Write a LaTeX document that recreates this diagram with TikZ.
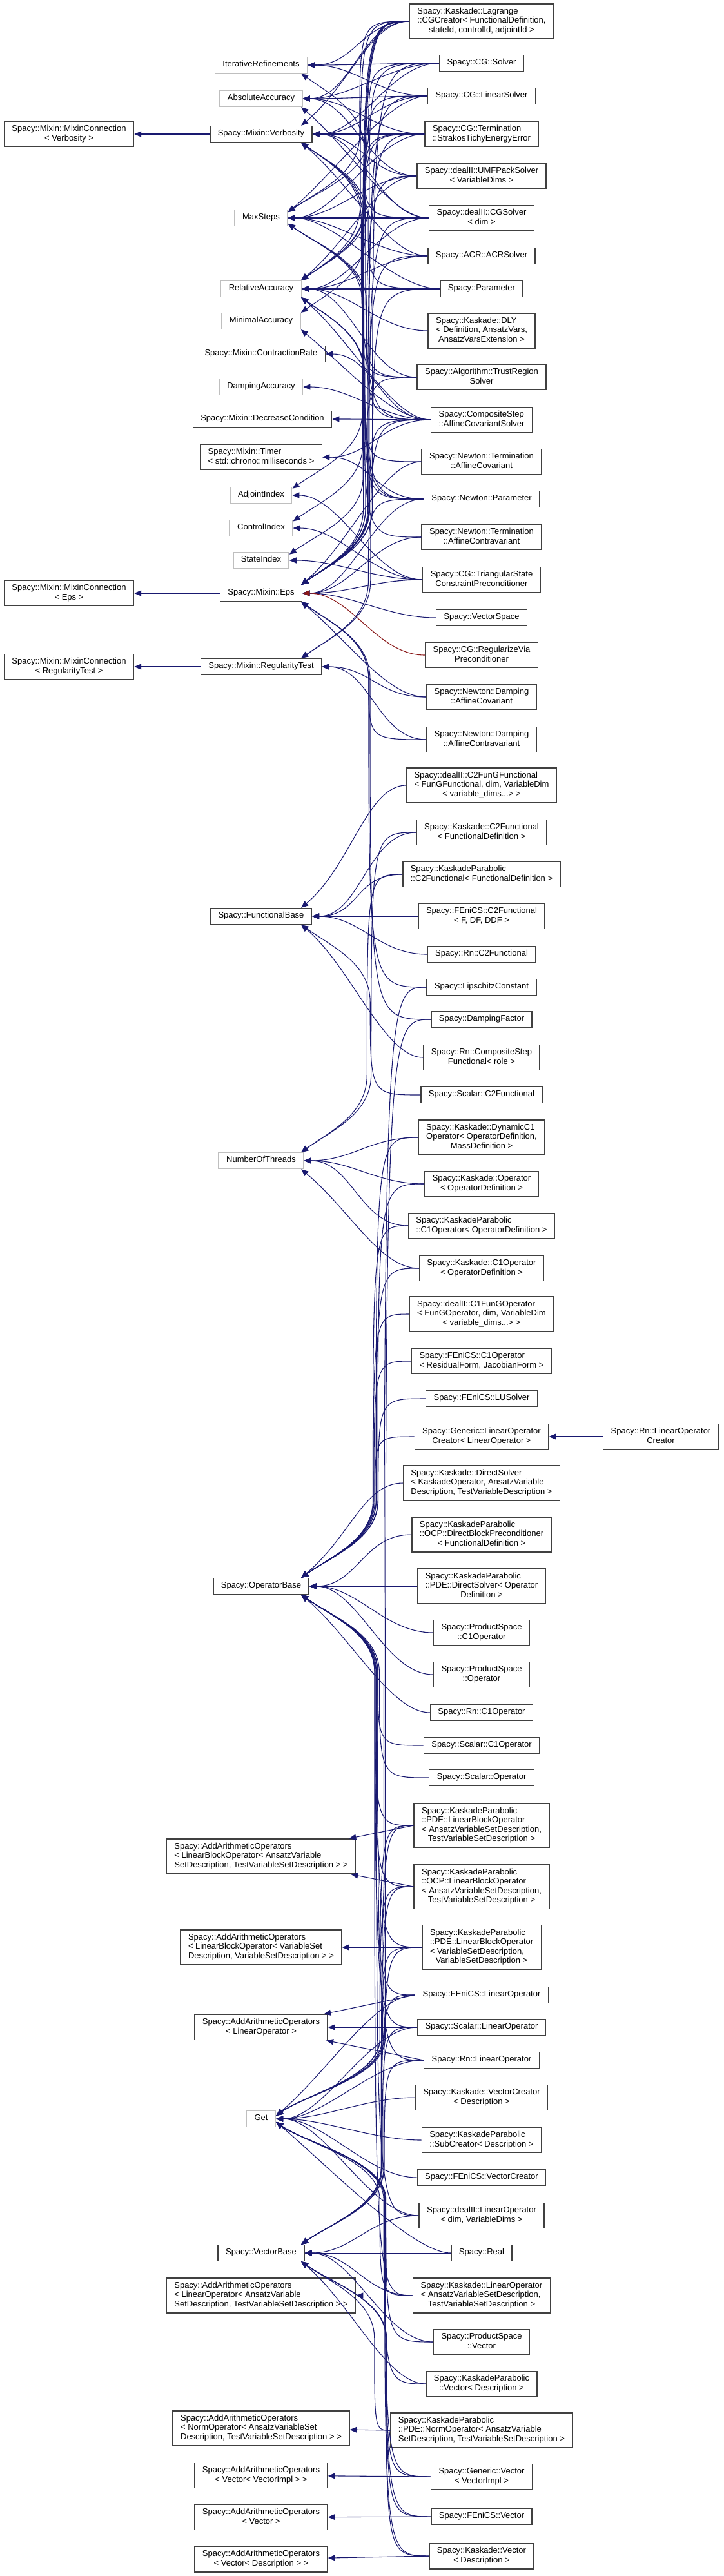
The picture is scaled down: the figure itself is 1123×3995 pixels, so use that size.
\documentclass[tikz,border=0pt]{standalone}
\usepackage{fontspec}
\setmainfont{Liberation Sans}
\usepackage{tikz}
\usetikzlibrary{arrows.meta,calc}

\definecolor{dxblue}{HTML}{191970}
\definecolor{dxdark}{HTML}{404040}
\definecolor{dxlight}{HTML}{BFBFBF}
\definecolor{dxred}{HTML}{8B1A1A}

\newcommand{\cname}[1]{\begin{tabular}{@{}c@{}}#1\end{tabular}}
\newcommand{\cnames}[2]{\begin{tabular}{@{}l@{}}#1\\\multicolumn{1}{@{}c@{}}{#2}\end{tabular}}

\begin{document}
\begin{tikzpicture}[
    x=0.25pt, y=0.25pt,
    cls/.style={
        draw=dxdark,
        line width=0.35pt,
        fill=white,
        inner xsep=3pt,
        inner ysep=1.3125pt,
        font=\fontsize{3.25}{3.625}\selectfont
    },
    undoc/.style={
        cls,
        draw=dxlight
    },
    inh/.style={
        -{Triangle[length=2.75pt,width=2.25pt]},
        draw=dxblue,
        line width=0.27pt
    },
    priv/.style={
        inh,
        draw=dxred
    },
    toeast/.style={out=180, in=0, distance=18.75pt},
    fromtop/.style={out=180, in=40, out distance=15pt, in distance=25pt},
    frombot/.style={out=180, in=-40, out distance=15pt, in distance=25pt},
    lanetop/.style={to path={
        let \p1=(\tikztostart), \p2=(\tikztotarget),
            \n1={0.3*(\x1)+91.05pt-0.01*(\y2)} in
        .. controls (\n1,\y1) and (\n1,\y1) .. (\n1,\y2+30pt)
        .. controls (\n1,\y2+15pt) and +(35:15pt) .. (\tikztotarget)}},
    lanebot/.style={to path={
        let \p1=(\tikztostart), \p2=(\tikztotarget),
            \n1={0.3*(\x1)+91.05pt-0.01*(\y2)} in
        .. controls (\n1,\y1) and (\n1,\y1) .. (\n1,\y2-30pt)
        .. controls (\n1,\y2-15pt) and +(-35:15pt) .. (\tikztotarget)}}
]

\fill[white] (0,0) rectangle (1123,-3995);
\useasboundingbox (0,0) rectangle (1123,-3995);

% Nodes
\node[cls] (mcverb) at (107,-208) {\cnames{Spacy::Mixin::MixinConnection}{< Verbosity >}};
\node[cls] (mceps)  at (107,-920) {\cnames{Spacy::Mixin::MixinConnection}{< Eps >}};
\node[cls] (mcreg)  at (107,-1034) {\cnames{Spacy::Mixin::MixinConnection}{< RegularityTest >}};

\node[undoc] (itref)    at (405,-101) {\cname{IterativeRefinements}};
\node[undoc] (absacc)   at (405,-153) {\cname{AbsoluteAccuracy}};
\node[cls]   (verb)     at (405,-208) {\cname{Spacy::Mixin::Verbosity}};
\node[undoc] (maxsteps) at (405,-338) {\cname{MaxSteps}};
\node[undoc] (relacc)   at (405,-448) {\cname{RelativeAccuracy}};
\node[undoc] (minacc)   at (405,-498) {\cname{MinimalAccuracy}};
\node[cls]   (contr)    at (405,-549) {\cname{Spacy::Mixin::ContractionRate}};
\node[undoc] (dampacc)  at (405,-600) {\cname{DampingAccuracy}};
\node[cls]   (decr)     at (407,-650) {\cname{Spacy::Mixin::DecreaseCondition}};
\node[cls]   (timer)    at (405,-709) {\cnames{Spacy::Mixin::Timer}{< std::chrono::milliseconds >}};
\node[undoc] (adj)      at (405,-768) {\cname{AdjointIndex}};
\node[undoc] (ctrl)     at (405,-819) {\cname{ControlIndex}};
\node[undoc] (state)    at (405,-869) {\cname{StateIndex}};
\node[cls]   (eps)      at (405,-920) {\cname{Spacy::Mixin::Eps}};
\node[cls]   (regtest)  at (405,-1034) {\cname{Spacy::Mixin::RegularityTest}};
\node[cls]   (funcbase) at (405,-1421) {\cname{Spacy::FunctionalBase}};
\node[undoc] (nthreads) at (405,-1800) {\cname{NumberOfThreads}};
\node[cls]   (opbase)   at (405,-2460) {\cname{Spacy::OperatorBase}};
\node[cls]   (aalboat)  at (405,-2879) {\cnames{Spacy::AddArithmeticOperators\\< LinearBlockOperator< AnsatzVariable}{SetDescription, TestVariableSetDescription > >}};
\node[cls]   (aalbovs)  at (405,-3020) {\cnames{Spacy::AddArithmeticOperators\\< LinearBlockOperator< VariableSet}{Description, VariableSetDescription > >}};
\node[cls]   (aalo)     at (405,-3144) {\cnames{Spacy::AddArithmeticOperators}{< LinearOperator >}};
\node[undoc] (get)      at (405,-3286) {\cname{Get}};
\node[cls]   (vecbase)  at (405,-3494) {\cname{Spacy::VectorBase}};
\node[cls]   (aaloat)   at (405,-3560) {\cnames{Spacy::AddArithmeticOperators\\< LinearOperator< AnsatzVariable}{SetDescription, TestVariableSetDescription > >}};
\node[cls]   (aano)     at (405,-3766) {\cnames{Spacy::AddArithmeticOperators\\< NormOperator< AnsatzVariableSet}{Description, TestVariableSetDescription > >}};
\node[cls]   (aavi)     at (405,-3839) {\cnames{Spacy::AddArithmeticOperators}{< Vector< VectorImpl > >}};
\node[cls]   (aav)      at (405,-3904) {\cnames{Spacy::AddArithmeticOperators}{< Vector >}};
\node[cls]   (aavd)     at (405,-3969) {\cnames{Spacy::AddArithmeticOperators}{< Vector< Description > >}};

\node[cls] (lagr)     at (747,-33) {\cnames{Spacy::Kaskade::Lagrange\\::CGCreator< FunctionalDefinition,}{stateId, controlId, adjointId >}};
\node[cls] (cgsolver) at (747,-98) {\cname{Spacy::CG::Solver}};
\node[cls] (cglin)    at (747,-149) {\cname{Spacy::CG::LinearSolver}};
\node[cls] (strakos)  at (747,-208) {\cnames{Spacy::CG::Termination}{::StrakosTichyEnergyError}};
\node[cls] (umf)      at (747,-273) {\cnames{Spacy::dealII::UMFPackSolver}{< VariableDims >}};
\node[cls] (dcg)      at (747,-338) {\cnames{Spacy::dealII::CGSolver}{< dim >}};
\node[cls] (acr)      at (747,-397) {\cname{Spacy::ACR::ACRSolver}};
\node[cls] (param)    at (747,-448) {\cname{Spacy::Parameter}};
\node[cls] (dly)      at (747,-513) {\cnames{Spacy::Kaskade::DLY\\< Definition, AnsatzVars,}{AnsatzVarsExtension >}};
\node[cls] (trs)      at (747,-585) {\cnames{Spacy::Algorithm::TrustRegion}{Solver}};
\node[cls] (css)      at (747,-651) {\cnames{Spacy::CompositeStep}{::AffineCovariantSolver}};
\node[cls] (ntac)     at (747,-716) {\cnames{Spacy::Newton::Termination}{::AffineCovariant}};
\node[cls] (nparam)   at (747,-774) {\cname{Spacy::Newton::Parameter}};
\node[cls] (ntacv)    at (747,-833) {\cnames{Spacy::Newton::Termination}{::AffineContravariant}};
\node[cls] (tri)      at (747,-899) {\cnames{Spacy::CG::TriangularState}{ConstraintPreconditioner}};
\node[cls] (vspace)   at (747,-958) {\cname{Spacy::VectorSpace}};
\node[cls] (regvia)   at (747,-1016) {\cnames{Spacy::CG::RegularizeVia}{Preconditioner}};
\node[cls] (ndac)     at (747,-1081) {\cnames{Spacy::Newton::Damping}{::AffineCovariant}};
\node[cls] (ndacv)    at (747,-1147) {\cnames{Spacy::Newton::Damping}{::AffineContravariant}};
\node[cls] (dfung)    at (747,-1218) {\cnames{Spacy::dealII::C2FunGFunctional\\< FunGFunctional, dim, VariableDim}{< variable\_dims...> >}};
\node[cls] (kc2)      at (747,-1291) {\cnames{Spacy::Kaskade::C2Functional}{< FunctionalDefinition >}};
\node[cls] (kpc2)     at (747,-1356) {\cnames{Spacy::KaskadeParabolic}{::C2Functional< FunctionalDefinition >}};
\node[cls] (fc2)      at (747,-1421) {\cnames{Spacy::FEniCS::C2Functional}{< F, DF, DDF >}};
\node[cls] (rnc2)     at (747,-1480) {\cname{Spacy::Rn::C2Functional}};
\node[cls] (lip)      at (747,-1531) {\cname{Spacy::LipschitzConstant}};
\node[cls] (dfac)     at (747,-1581) {\cname{Spacy::DampingFactor}};
\node[cls] (rncs)     at (747,-1640) {\cnames{Spacy::Rn::CompositeStep}{Functional< role >}};
\node[cls] (sc2)      at (747,-1698) {\cname{Spacy::Scalar::C2Functional}};
\node[cls] (kdyn)     at (747,-1764) {\cnames{Spacy::Kaskade::DynamicC1\\Operator< OperatorDefinition,}{MassDefinition >}};
\node[cls] (kop)      at (747,-1836) {\cnames{Spacy::Kaskade::Operator}{< OperatorDefinition >}};
\node[cls] (kpc1)     at (747,-1901) {\cnames{Spacy::KaskadeParabolic}{::C1Operator< OperatorDefinition >}};
\node[cls] (kc1)      at (747,-1967) {\cnames{Spacy::Kaskade::C1Operator}{< OperatorDefinition >}};
\node[cls] (dfungop)  at (747,-2038) {\cnames{Spacy::dealII::C1FunGOperator\\< FunGOperator, dim, VariableDim}{< variable\_dims...> >}};
\node[cls] (fc1)      at (747,-2111) {\cnames{Spacy::FEniCS::C1Operator}{< ResidualForm, JacobianForm >}};
\node[cls] (flu)      at (747,-2169) {\cname{Spacy::FEniCS::LUSolver}};
\node[cls] (glocr)    at (747,-2228) {\cnames{Spacy::Generic::LinearOperator}{Creator< LinearOperator >}};
\node[cls] (kds)      at (747,-2300) {\cnames{Spacy::Kaskade::DirectSolver\\< KaskadeOperator, AnsatzVariable}{Description, TestVariableDescription >}};
\node[cls] (kpdbp)    at (747,-2380) {\cnames{Spacy::KaskadeParabolic\\::OCP::DirectBlockPreconditioner}{< FunctionalDefinition >}};
\node[cls] (kpds)     at (747,-2460) {\cnames{Spacy::KaskadeParabolic\\::PDE::DirectSolver< Operator}{Definition >}};
\node[cls] (psc1)     at (747,-2532) {\cnames{Spacy::ProductSpace}{::C1Operator}};
\node[cls] (psop)     at (747,-2597) {\cnames{Spacy::ProductSpace}{::Operator}};
\node[cls] (rnc1)     at (747,-2656) {\cname{Spacy::Rn::C1Operator}};
\node[cls] (scc1)     at (747,-2707) {\cname{Spacy::Scalar::C1Operator}};
\node[cls] (scop)     at (747,-2757) {\cname{Spacy::Scalar::Operator}};
\node[cls] (kppdelbo) at (747,-2831) {\cnames{Spacy::KaskadeParabolic\\::PDE::LinearBlockOperator\\< AnsatzVariableSetDescription,}{TestVariableSetDescription >}};
\node[cls] (kpocplbo) at (747,-2926) {\cnames{Spacy::KaskadeParabolic\\::OCP::LinearBlockOperator\\< AnsatzVariableSetDescription,}{TestVariableSetDescription >}};
\node[cls] (kppdevs)  at (747,-3020) {\cnames{Spacy::KaskadeParabolic\\::PDE::LinearBlockOperator\\< VariableSetDescription,}{VariableSetDescription >}};
\node[cls] (flo)      at (747,-3094) {\cname{Spacy::FEniCS::LinearOperator}};
\node[cls] (sclo)     at (747,-3144) {\cname{Spacy::Scalar::LinearOperator}};
\node[cls] (rnlo)     at (747,-3195) {\cname{Spacy::Rn::LinearOperator}};
\node[cls] (kvc)      at (747,-3253) {\cnames{Spacy::Kaskade::VectorCreator}{< Description >}};
\node[cls] (kpsub)    at (747,-3319) {\cnames{Spacy::KaskadeParabolic}{::SubCreator< Description >}};
\node[cls] (fvc)      at (747,-3377) {\cname{Spacy::FEniCS::VectorCreator}};
\node[cls] (dlo)      at (747,-3436) {\cnames{Spacy::dealII::LinearOperator}{< dim, VariableDims >}};
\node[cls] (real)     at (747,-3494) {\cname{Spacy::Real}};
\node[cls] (klo)      at (747,-3560) {\cnames{Spacy::Kaskade::LinearOperator\\< AnsatzVariableSetDescription,}{TestVariableSetDescription >}};
\node[cls] (psvec)    at (747,-3632) {\cnames{Spacy::ProductSpace}{::Vector}};
\node[cls] (kpvec)    at (747,-3697) {\cnames{Spacy::KaskadeParabolic}{::Vector< Description >}};
\node[cls] (kpno)     at (747,-3769) {\cnames{Spacy::KaskadeParabolic\\::PDE::NormOperator< AnsatzVariable}{SetDescription, TestVariableSetDescription >}};
\node[cls] (gvec)     at (747,-3841) {\cnames{Spacy::Generic::Vector}{< VectorImpl >}};
\node[cls] (fvec)     at (747,-3903) {\cname{Spacy::FEniCS::Vector}};
\node[cls] (kvec)     at (747,-3964) {\cnames{Spacy::Kaskade::Vector}{< Description >}};

\node[cls] (rnlocr)   at (1025,-2228) {\cnames{Spacy::Rn::LinearOperator}{Creator}};

% Arrows
\draw[inh] (verb.west) -- (mcverb.east);
\draw[inh] (eps.west) -- (mceps.east);
\draw[inh] (regtest.west) -- (mcreg.east);
\draw[inh] (rnlocr.west) -- (glocr.east);

\draw[inh] (lagr.west) to[toeast] (itref.east);
\draw[inh] (cgsolver.west) to[toeast] (itref.east);
\draw[inh] (cglin.west) to[toeast] (itref.east);
\draw[inh] (dcg.west) to[lanebot] (itref.-12);

\draw[inh] (lagr.west) to[toeast] (absacc.east);
\draw[inh] (cgsolver.west) to[toeast] (absacc.east);
\draw[inh] (cglin.west) to[toeast] (absacc.east);
\draw[inh] (strakos.west) to[toeast] (absacc.east);
\draw[inh] (umf.west) to[toeast] (absacc.east);
\draw[inh] (dcg.west) to[frombot] (absacc.-12);

\draw[inh] (lagr.west) to[fromtop] (verb.12);
\draw[inh] (cgsolver.west) to[toeast] (verb.east);
\draw[inh] (cglin.west) to[toeast] (verb.east);
\draw[inh] (strakos.west) to[toeast] (verb.east);
\draw[inh] (umf.west) to[toeast] (verb.east);
\draw[inh] (dcg.west) to[toeast] (verb.east);
\draw[inh] (acr.west) to[frombot] (verb.-12);
\draw[inh] (param.west) to[lanebot] (verb.-12);
\draw[inh] (trs.west) to[lanebot] (verb.-12);
\draw[inh] (css.west) to[lanebot] (verb.-12);
\draw[inh] (nparam.west) to[lanebot] (verb.-12);

\draw[inh] (lagr.west) to[lanetop] (maxsteps.12);
\draw[inh] (cgsolver.west) to[lanetop] (maxsteps.12);
\draw[inh] (cglin.west) to[fromtop] (maxsteps.12);
\draw[inh] (strakos.west) to[toeast] (maxsteps.east);
\draw[inh] (umf.west) to[toeast] (maxsteps.east);
\draw[inh] (dcg.west) to[toeast] (maxsteps.east);
\draw[inh] (acr.west) to[toeast] (maxsteps.east);
\draw[inh] (param.west) to[toeast] (maxsteps.east);
\draw[inh] (trs.west) to[lanebot] (maxsteps.-12);
\draw[inh] (css.west) to[lanebot] (maxsteps.-12);
\draw[inh] (nparam.west) to[lanebot] (maxsteps.-12);

\draw[inh] (lagr.west) to[lanetop] (relacc.12);
\draw[inh] (cgsolver.west) to[lanetop] (relacc.12);
\draw[inh] (cglin.west) to[lanetop] (relacc.12);
\draw[inh] (strakos.west) to[lanetop] (relacc.12);
\draw[inh] (umf.west) to[fromtop] (relacc.12);
\draw[inh] (dcg.west) to[toeast] (relacc.east);
\draw[inh] (acr.west) to[toeast] (relacc.east);
\draw[inh] (param.west) to[toeast] (relacc.east);
\draw[inh] (dly.west) to[toeast] (relacc.east);
\draw[inh] (trs.west) to[toeast] (relacc.east);
\draw[inh] (css.west) to[frombot] (relacc.-12);
\draw[inh] (ntac.west) to[lanebot] (relacc.-12);
\draw[inh] (nparam.west) to[lanebot] (relacc.-12);
\draw[inh] (ntacv.west) to[lanebot] (relacc.-12);

\draw[inh] (strakos.west) to[lanetop] (minacc.12);
\draw[inh] (css.west) to[frombot] (minacc.-12);
\draw[inh] (css.west) to[toeast] (contr.east);
\draw[inh] (css.west) to[toeast] (dampacc.east);
\draw[inh] (css.west) to[toeast] (decr.east);
\draw[inh] (css.west) to[toeast] (timer.east);
\draw[inh] (nparam.west) to[toeast] (timer.east);

\draw[inh] (lagr.west) to[lanetop] (adj.12);
\draw[inh] (tri.west) to[toeast] (adj.east);
\draw[inh] (lagr.west) to[lanetop] (ctrl.12);
\draw[inh] (tri.west) to[toeast] (ctrl.east);
\draw[inh] (lagr.west) to[lanetop] (state.12);
\draw[inh] (tri.west) to[toeast] (state.east);

\draw[inh] (lagr.west) to[lanetop] (eps.12);
\draw[inh] (cgsolver.west) to[lanetop] (eps.12);
\draw[inh] (cglin.west) to[lanetop] (eps.12);
\draw[inh] (strakos.west) to[lanetop] (eps.12);
\draw[inh] (umf.west) to[lanetop] (eps.12);
\draw[inh] (dcg.west) to[lanetop] (eps.12);
\draw[inh] (acr.west) to[lanetop] (eps.12);
\draw[inh] (param.west) to[lanetop] (eps.12);
\draw[inh] (trs.west) to[lanetop] (eps.12);
\draw[inh] (css.west) to[lanetop] (eps.12);
\draw[inh] (ntac.west) to[fromtop] (eps.12);
\draw[inh] (nparam.west) to[toeast] (eps.east);
\draw[inh] (ntacv.west) to[toeast] (eps.east);
\draw[inh] (tri.west) to[toeast] (eps.east);
\draw[inh] (vspace.west) to[toeast] (eps.east);
\draw[priv] (regvia.west) to[toeast] (eps.east);
\draw[inh] (ndac.west) to[frombot] (eps.-12);
\draw[inh] (ndacv.west) to[lanebot] (eps.-12);
\draw[inh] (lip.west) to[lanebot] (eps.-12);
\draw[inh] (dfac.west) to[lanebot] (eps.-12);

\draw[inh] (css.west) to[lanetop] (regtest.12);
\draw[inh] (nparam.west) to[lanetop] (regtest.12);
\draw[inh] (ndac.west) to[toeast] (regtest.east);
\draw[inh] (ndacv.west) to[toeast] (regtest.east);

\draw[inh] (dfung.west) to[fromtop] (funcbase.12);
\draw[inh] (kc2.west) to[toeast] (funcbase.east);
\draw[inh] (kpc2.west) to[toeast] (funcbase.east);
\draw[inh] (fc2.west) to[toeast] (funcbase.east);
\draw[inh] (rnc2.west) to[toeast] (funcbase.east);
\draw[inh] (rncs.west) to[frombot] (funcbase.-12);
\draw[inh] (sc2.west) to[lanebot] (funcbase.-12);

\draw[inh] (kc2.west) to[lanetop] (nthreads.12);
\draw[inh] (kpc2.west) to[lanetop] (nthreads.12);
\draw[inh] (kdyn.west) to[toeast] (nthreads.east);
\draw[inh] (kop.west) to[toeast] (nthreads.east);
\draw[inh] (kpc1.west) to[toeast] (nthreads.east);
\draw[inh] (kc1.west) to[frombot] (nthreads.-12);

\draw[inh] (kdyn.west) to[lanetop] (opbase.12);
\draw[inh] (kop.west) to[lanetop] (opbase.12);
\draw[inh] (kpc1.west) to[lanetop] (opbase.12);
\draw[inh] (kc1.west) to[lanetop] (opbase.12);
\draw[inh] (dfungop.west) to[lanetop] (opbase.12);
\draw[inh] (fc1.west) to[lanetop] (opbase.12);
\draw[inh] (flu.west) to[lanetop] (opbase.12);
\draw[inh] (glocr.west) to[lanetop] (opbase.12);
\draw[inh] (kds.west) to[fromtop] (opbase.12);
\draw[inh] (kpdbp.west) to[toeast] (opbase.east);
\draw[inh] (kpds.west) to[toeast] (opbase.east);
\draw[inh] (psc1.west) to[toeast] (opbase.east);
\draw[inh] (psop.west) to[toeast] (opbase.east);
\draw[inh] (rnc1.west) to[frombot] (opbase.-12);
\draw[inh] (scc1.west) to[lanebot] (opbase.-12);
\draw[inh] (scop.west) to[lanebot] (opbase.-12);
\draw[inh] (kppdelbo.west) to[lanebot] (opbase.-12);
\draw[inh] (kpocplbo.west) to[lanebot] (opbase.-12);
\draw[inh] (kppdevs.west) to[lanebot] (opbase.-12);
\draw[inh] (flo.west) to[lanebot] (opbase.-12);
\draw[inh] (sclo.west) to[lanebot] (opbase.-12);
\draw[inh] (rnlo.west) to[lanebot] (opbase.-12);
\draw[inh] (dlo.west) to[lanebot] (opbase.-12);
\draw[inh] (klo.west) to[lanebot] (opbase.-12);

\draw[inh] (kppdelbo.west) -- (aalboat);
\draw[inh] (kpocplbo.west) -- (aalboat);
\draw[inh] (kppdevs.west) -- (aalbovs);
\draw[inh] (flo.west) -- (aalo);
\draw[inh] (sclo.west) -- (aalo);
\draw[inh] (rnlo.west) -- (aalo);

\draw[inh] (lip.west) to[lanetop] (get.12);
\draw[inh] (dfac.west) to[lanetop] (get.12);
\draw[inh] (kppdelbo.west) to[lanetop] (get.12);
\draw[inh] (kpocplbo.west) to[lanetop] (get.12);
\draw[inh] (kppdevs.west) to[lanetop] (get.12);
\draw[inh] (flo.west) to[fromtop] (get.12);
\draw[inh] (sclo.west) to[toeast] (get.east);
\draw[inh] (rnlo.west) to[toeast] (get.east);
\draw[inh] (kvc.west) to[toeast] (get.east);
\draw[inh] (kpsub.west) to[toeast] (get.east);
\draw[inh] (fvc.west) to[toeast] (get.east);
\draw[inh] (dlo.west) to[toeast] (get.east);
\draw[inh] (real.west) to[frombot] (get.-12);
\draw[inh] (klo.west) to[lanebot] (get.-12);
\draw[inh] (psvec.west) to[lanebot] (get.-12);
\draw[inh] (kpvec.west) to[lanebot] (get.-12);
\draw[inh] (gvec.west) to[lanebot] (get.-12);
\draw[inh] (fvec.west) to[lanebot] (get.-12);
\draw[inh] (kvec.west) to[lanebot] (get.-12);

\draw[inh] (kppdelbo.west) to[lanetop] (vecbase.12);
\draw[inh] (kpocplbo.west) to[lanetop] (vecbase.12);
\draw[inh] (kppdevs.west) to[lanetop] (vecbase.12);
\draw[inh] (flo.west) to[lanetop] (vecbase.12);
\draw[inh] (sclo.west) to[lanetop] (vecbase.12);
\draw[inh] (rnlo.west) to[lanetop] (vecbase.12);
\draw[inh] (dlo.west) to[toeast] (vecbase.east);
\draw[inh] (real.west) to[toeast] (vecbase.east);
\draw[inh] (klo.west) to[toeast] (vecbase.east);
\draw[inh] (psvec.west) to[toeast] (vecbase.east);
\draw[inh] (kpvec.west) to[frombot] (vecbase.-12);
\draw[inh] (kpno.west) to[lanebot] (vecbase.-12);
\draw[inh] (gvec.west) to[lanebot] (vecbase.-12);
\draw[inh] (fvec.west) to[lanebot] (vecbase.-12);
\draw[inh] (kvec.west) to[lanebot] (vecbase.-12);

\draw[inh] (klo.west) -- (aaloat);
\draw[inh] (kpno.west) -- (aano);
\draw[inh] (gvec.west) -- (aavi);
\draw[inh] (fvec.west) -- (aav);
\draw[inh] (kvec.west) -- (aavd);

\end{tikzpicture}
\end{document}
